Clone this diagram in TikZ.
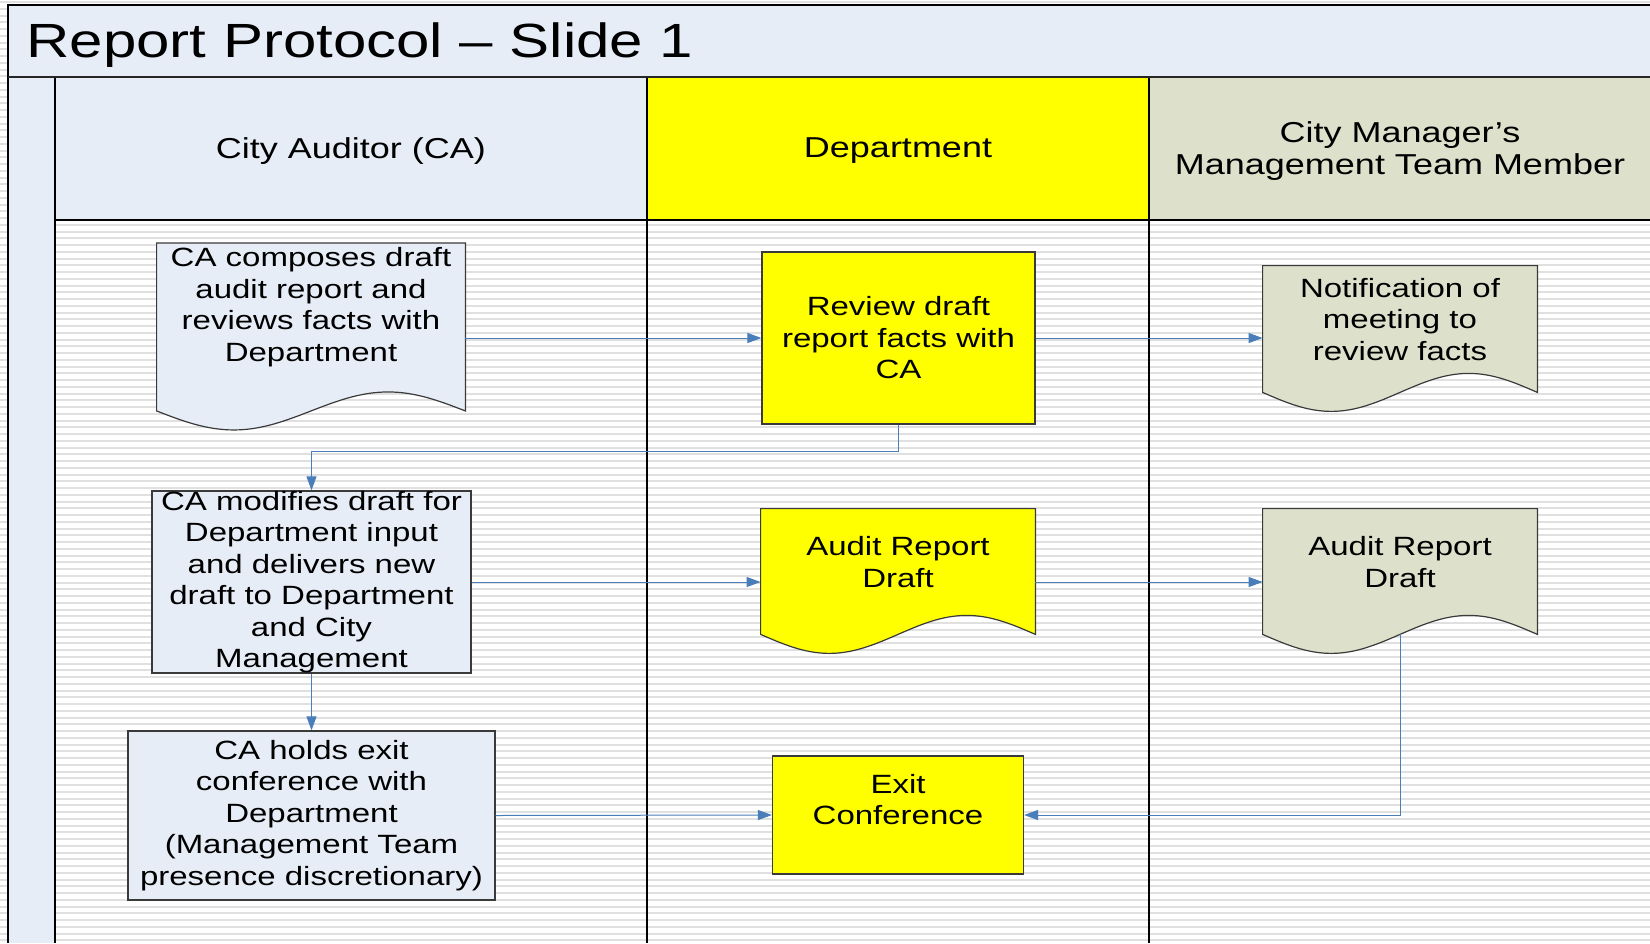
\documentclass[tikz,border=0pt]{standalone}
\usepackage{fontspec}
\setmainfont{Liberation Sans}[FakeStretch=1.25]
\usetikzlibrary{arrows.meta,calc}

\definecolor{laneblue}{HTML}{E7EDF7}
\definecolor{laneolive}{HTML}{DDE1CC}
\definecolor{laneyellow}{HTML}{FFFF00}
\definecolor{flowblue}{HTML}{4A7EBB}
\definecolor{stripegray}{HTML}{E0E0E0}
\definecolor{boxgray}{HTML}{3A3A3A}

\newcommand{\bodyfont}{\fontsize{13.2pt}{15.75pt}\selectfont}
\newcommand{\headfont}{\fontsize{14.4pt}{16.3pt}\selectfont}

% wavy lower edge of a document node, left to right (units are px);
% #1: gap between the node's south side and the wave crest
\newcommand{\docwave}[2]{%
  ($(#2.south west)+(0,19+#1)$)
  sin ($(#2.south west)!.25!(#2.south east)+(0,38+#1)$)
  cos ($(#2.south west)!.5!(#2.south east)+(0,19+#1)$)
  sin ($(#2.south west)!.75!(#2.south east)+(0,#1)$)
  cos ($(#2.south east)+(0,19+#1)$)}
\newcommand{\docbottom}[3][0]{%
  \fill[#3] \docwave{#1}{#2} -- ([yshift=1pt]#2.south east)
    -- ([yshift=1pt]#2.south west) -- cycle;
  \draw[docline] \docwave{#1}{#2} -- (#2.north east) -- (#2.north west) -- cycle;}

\tikzset{>={Triangle[length=7pt,width=5pt]},
         flow/.style={->,draw=flowblue,line width=0.5pt},
         stripe/.style={draw=stripegray,line width=1pt},
         lane/.style={draw=black,line width=0.8pt},
         docline/.style={draw=boxgray,line width=0.6pt},
         procbox/.style={draw=boxgray,line width=0.6pt,align=center,
                         inner sep=2pt,font=\bodyfont},
         docbox/.style={fill=#1,align=center,inner sep=2pt,font=\bodyfont},
         lanehead/.style={align=center,font=\headfont}}

\begin{document}
\begin{tikzpicture}[x=0.5pt,y=-0.5pt]
\useasboundingbox (0,0) rectangle (1650,943);
% striped page
\fill[white] (0,0) rectangle (1650,943);
\foreach \y in {2,8.75,...,943}
  \draw[stripe] (0,\y) -- (1650,\y);
% title bar, pool strip and lane headers
\fill[laneblue] (8,5) rectangle (1650,77);
\fill[laneblue] (8,77) rectangle (55,943);
\fill[laneblue] (55,77) rectangle (647,220);
\fill[laneyellow] (647,77) rectangle (1149,220);
\fill[laneolive] (1149,77) rectangle (1650,220);
\draw[lane] (1650,5) -- (8,5) -- (8,943);
\draw[lane] (55,220) -- (1650,220);
\foreach \x in {55,647,1149}
  \draw[lane] (\x,77) -- (\x,943);
\draw[draw=black!85,line width=1.2pt] (8,77) -- (1650,77);

\node[anchor=base west,inner sep=0pt,font=\fontsize{24pt}{28pt}\selectfont]
  (title) at (26,57) {Report Protocol -- Slide 1};
\node[lanehead] (hca) at (351,151) {City Auditor (CA)};
\node[lanehead] (hdept) at (898,151) {Department};
\node[lanehead] (hmgr) at (1400,151) {City Manager's\\Management Team Member};

% first row
\node[docbox=laneblue,minimum width=154pt,minimum height=61pt]
  (compose) at (311,307) {CA composes draft\\audit report and\\reviews facts with\\Department};
\node[procbox,fill=laneyellow,minimum width=136.5pt,minimum height=86pt]
  (review) at (898.5,338) {Review draft\\report facts with\\CA};
\node[docbox=laneolive,minimum width=137pt,minimum height=53.5pt]
  (notify) at (1400,319.5) {Notification of\\meeting to\\review facts};
% second row
\node[procbox,fill=laneblue,inner ysep=0pt,minimum width=159.5pt,minimum height=88pt]
  (modify) at (311.5,582) {CA modifies draft for\\Department input\\and delivers new\\draft to Department\\and City\\Management};
\node[docbox=laneyellow,minimum width=137pt,minimum height=53pt]
  (draftdept) at (898,562) {Audit Report\\Draft};
\node[docbox=laneolive,minimum width=137pt,minimum height=53pt]
  (draftmgr) at (1400,562) {Audit Report\\Draft};
% third row
\node[procbox,fill=laneblue,minimum width=183.5pt,minimum height=84.5pt]
  (holds) at (311.5,815.5) {CA holds exit\\conference with\\Department\\(Management Team\\presence discretionary)};
\node[procbox,fill=laneyellow,minimum width=125.5pt,minimum height=59pt]
  (exitconf) at (898,815) {Exit\\Conference\\\mbox{}};

\docbottom[21]{compose}{laneblue}
\docbottom{notify}{laneolive}
\docbottom{draftdept}{laneyellow}
\docbottom{draftmgr}{laneolive}

% flow
\draw[flow] (compose.east |- review.west) -- (review.west);
\draw[flow] (review.east) -- (notify.west |- review.east);
\draw[flow] (review.south) -- ++(0,27) -| (modify.north);
\draw[flow] (modify.east) -- (draftdept.west |- modify.east);
\draw[flow] (draftdept.east |- modify.east) -- (draftmgr.west |- modify.east);
\draw[flow] (modify.south) -- (holds.north);
\draw[flow] ($(draftmgr.south)+(0,19)$) |- (exitconf.east);
\draw[flow] (holds.east) -- (exitconf.west);
\end{tikzpicture}
\end{document}
